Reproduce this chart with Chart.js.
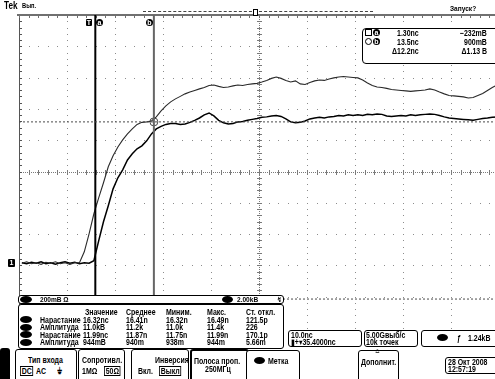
<!DOCTYPE html>
<html><head><meta charset="utf-8">
<script src="https://cdn.jsdelivr.net/npm/chart.js@4/dist/chart.umd.min.js"></script>
<style>
html,body{margin:0;padding:0;background:#fff;overflow:hidden;width:495px;height:379px;}
#wrap{position:relative;width:495px;height:379px;overflow:hidden;}
canvas{position:absolute;left:0;top:0;}
.t{position:absolute;font-family:"Liberation Sans","DejaVu Sans",Arial,sans-serif;font-weight:bold;font-size:8.5px;color:#000;white-space:nowrap;line-height:8px;transform:scaleX(0.82);transform-origin:0 50%;}
.tr{transform-origin:100% 50%;}
.box{position:absolute;border:1px solid #000;border-radius:3px;background:#fff;box-sizing:border-box;}
.ell{position:absolute;background:#000;border-radius:50%;}
.mk{position:absolute;background:#000;color:#fff;font-family:"Liberation Sans",Arial,sans-serif;font-weight:bold;font-size:7px;line-height:7px;text-align:center;}
.sel{border:1px solid #000;padding:0 1px;}
</style></head>
<body><div id="wrap">
<canvas id="c" width="504" height="379"></canvas>

<!-- top bar -->
<div class="t" style="left:4px;top:1px;font-size:10px;line-height:9px;">Tek</div>
<div class="t" style="left:22px;top:2px;font-size:7px;line-height:7px;">Вып.</div>
<div class="t" style="left:450px;top:5px;font-size:8px;">Запуск?</div>
<div style="position:absolute;left:143px;top:11px;width:230px;height:0;border-top:1px dashed #444;"></div>
<div style="position:absolute;left:253px;top:9px;width:3px;height:5px;border:1px solid #000;background:#fff;"></div>
<div class="mk" style="left:86px;top:19px;width:6px;height:7px;border-radius:1px;">T</div>
<div class="mk" style="left:96px;top:19px;width:7px;height:7px;border-radius:50%;">a</div>
<div class="mk" style="left:146px;top:19px;width:7px;height:7px;border-radius:50%;">b</div>
<div class="mk" style="left:8px;top:259px;width:7px;height:8px;line-height:8px;border-radius:1px;">1</div>

<!-- cursor readout -->
<div class="box" style="left:362px;top:28px;width:150px;height:36px;border-radius:4px;"></div>
<div style="position:absolute;left:365px;top:29px;width:5px;height:5px;border:1px solid #000;"></div>
<div class="mk" style="left:373px;top:29px;width:7px;height:7px;border-radius:50%;">a</div>
<div style="position:absolute;left:365px;top:38px;width:5px;height:5px;border:1px solid #000;border-radius:50%;"></div>
<div class="mk" style="left:373px;top:38px;width:7px;height:7px;border-radius:50%;">b</div>
<div class="t" id="ra1" style="left:397px;top:29px;"></div>
<div class="t" id="rb1" style="left:397px;top:38px;"></div>
<div class="t" id="rd1" style="left:392px;top:47px;"></div>
<div class="t tr" id="ra2" style="right:8px;top:29px;"></div>
<div class="t tr" id="rb2" style="right:8px;top:38px;"></div>
<div class="t tr" id="rd2" style="right:8px;top:47px;"></div>

<!-- channel strip -->
<div class="box" style="left:18px;top:295px;width:266px;height:9px;"></div>
<div class="ell" style="left:20px;top:296px;width:12px;height:7px;"></div>
<div class="t" style="left:40px;top:296px;font-size:8px;">200mB Ω</div>
<div class="ell" style="left:222px;top:296px;width:11px;height:7px;"></div>
<div class="t" style="left:237px;top:296px;font-size:8px;">2.00kB</div>
<div class="t" style="left:277px;top:296px;font-size:7px;">↯</div>

<!-- measurement table -->
<div class="box" style="left:18px;top:304px;width:266px;height:45px;"></div>
<div id="meas"></div>

<!-- info boxes -->
<div class="box" style="left:288px;top:330px;width:74px;height:17px;"></div>
<div class="t" style="left:291px;top:331px;">10.0nc</div>
<div class="t" style="left:291px;top:338px;">▮+▾35.4000nc</div>
<div class="box" style="left:364px;top:330px;width:54px;height:17px;"></div>
<div class="t" style="left:366px;top:331px;">5.00Gвыб/c</div>
<div class="t" style="left:366px;top:338px;">10k точек</div>
<div class="box" style="left:421px;top:330px;width:90px;height:17px;"></div>
<div class="ell" style="left:437px;top:334px;width:11px;height:7px;"></div>
<div class="t" style="left:457px;top:334px;">ƒ</div>
<div class="t" style="left:468px;top:334px;">1.24kB</div>

<!-- menu -->
<div style="position:absolute;left:0;top:348px;width:10px;height:35px;background:#000;border-radius:3px;"></div>
<div class="box" style="left:15px;top:349px;width:62px;height:34px;"></div>
<div class="t" style="left:28px;top:356px;">Тип входа</div>
<div class="t sel" style="left:20px;top:366px;">DC</div>
<div class="t" style="left:36px;top:367px;">AC</div>
<div class="t" style="left:57px;top:367px;">⏚</div>
<div class="box" style="left:78px;top:349px;width:47px;height:34px;"></div>
<div class="t" style="left:82px;top:356px;">Сопротивл.</div>
<div class="t" style="left:82px;top:367px;">1MΩ</div>
<div class="t sel" style="left:104px;top:366px;">50Ω</div>
<div class="box" style="left:131px;top:349px;width:58px;height:34px;"></div>
<div class="t" style="left:155px;top:356px;">Инверсия</div>
<div class="t" style="left:138px;top:367px;">Вкл.</div>
<div class="t sel" style="left:159px;top:366px;">Выкл</div>
<div class="box" style="left:190px;top:349px;width:59px;height:34px;border-width:2px;"></div>
<div class="t" style="left:194px;top:357px;">Полоса проп.</div>
<div class="t" style="left:205px;top:365px;">250MГц</div>
<div class="box" style="left:246px;top:350px;width:54px;height:34px;"></div>
<div class="ell" style="left:254px;top:357px;width:11px;height:7px;"></div>
<div class="t" style="left:268px;top:357px;">Метка</div>
<div class="box" style="left:358px;top:350px;width:41px;height:34px;"></div>
<div class="t" style="left:375px;top:348px;font-size:7px;">≏</div>
<div class="t" style="left:361px;top:358px;">Дополнит.</div>
<div class="box" style="left:445px;top:357px;width:60px;height:17px;"></div>
<div class="t" style="left:448px;top:358px;">28 Окт 2008</div>
<div class="t" style="left:448px;top:365px;">12:57:19</div>
</div>

<script>
// ---- data (time in ns, voltage in mV) ----
const timeNs = [-14,-13,-12,-11,-10,-9,-8,-7,-6,-5,-4,-3,-2,-1,0,1,2,3,4,5,6,7,8,9,10,11,12,13,14,15,16,17,18,19,20,21,22,23,24,25,26,27,28,29,30,31,32,33,34,35,36,37,38,39,40,41,42,43,44,45,46,47,48,49,50,51,52,53,54,55,56,57,58,59,60,61,62,63,64,65,66,67,68,69,70,71,72,73,74,75,76,77,78,79,80,81,82,83,84,85];
const traceUpper = [-3,6,-6,0,-10,3,-3,6,-6,0,-10,0,0,70,185,313,415,511,613,683,740,785,823,855,884,897,900,906,932,970,1002,1028,1047,1063,1079,1091,1101,1111,1120,1133,1136,1127,1120,1123,1130,1136,1133,1139,1143,1146,1155,1165,1178,1187,1178,1165,1155,1162,1143,1139,1152,1162,1168,1165,1174,1181,1187,1190,1187,1184,1181,1168,1149,1133,1123,1120,1114,1107,1104,1101,1098,1095,1098,1101,1104,1111,1104,1091,1079,1069,1066,1063,1060,1053,1056,1069,1082,1101,1120,1136];
const traceLower = [0,-6,3,-3,6,-6,0,-10,0,6,-3,3,-6,0,-3,13,140,262,364,472,543,594,657,696,728,747,779,823,855,871,884,890,890,884,887,897,910,925,945,957,938,910,894,887,890,900,903,910,916,922,929,932,938,941,935,919,900,894,897,906,919,925,929,925,932,935,941,938,945,941,945,941,948,945,951,948,938,935,938,941,938,945,941,945,948,951,948,941,932,925,922,919,916,913,910,916,922,925,929,932];
const cursorTimes = [1.30, 13.5];      // ns
const cursorLevels = [-232, 900];      // mV
const timeRange = [-14.6, 85.4];       // 10 ns/div, centre +35.4 ns
const voltRange = [-417, 1583];        // 200 mV/div
const readoutA = ["1.30nc", "−232mB"];
const readoutB = ["13.5nc", "900mB"];
const readoutD = ["Δ12.2nc", "Δ1.13 B"];
const measHeaders = ["Значение","Среднее","Миним.","Макс.","Ст. откл."];
const measNames = ["Нарастание","Амплитуда","Нарастание","Амплитуда"];
const measValue = ["16.32nc","11.0kB","11.99nc","944mB"];
const measMean = ["16.41n","11.2k","11.87n","940m"];
const measMin = ["16.32n","11.0k","11.75n","938m"];
const measMax = ["16.49n","11.4k","11.99n","944m"];
const measStd = ["121.5p","226","170.1p","5.66m"];

document.getElementById('ra1').textContent = readoutA[0];
document.getElementById('ra2').textContent = readoutA[1];
document.getElementById('rb1').textContent = readoutB[0];
document.getElementById('rb2').textContent = readoutB[1];
document.getElementById('rd1').textContent = readoutD[0];
document.getElementById('rd2').textContent = readoutD[1];

(function(){
  const m = document.getElementById('meas');
  const cols = [85,126,166,207,246];
  let html = '';
  measHeaders.forEach((h,i)=>{ html += `<div class="t" style="left:${cols[i]}px;top:308px;">${h}</div>`; });
  const rowsY = [315.5,323,330.5,338];
  measNames.forEach((n,r)=>{
    const y = rowsY[r];
    html += `<div class="ell" style="left:20px;top:${y+0.5}px;width:12px;height:7px;"></div>`;
    html += `<div class="t" style="left:40px;top:${y}px;">${n}</div>`;
    html += `<div class="t" style="left:83px;top:${y}px;">${measValue[r]}</div>`;
    html += `<div class="t" style="left:126px;top:${y}px;">${measMean[r]}</div>`;
    html += `<div class="t" style="left:166px;top:${y}px;">${measMin[r]}</div>`;
    html += `<div class="t" style="left:207px;top:${y}px;">${measMax[r]}</div>`;
    html += `<div class="t" style="left:246px;top:${y}px;">${measStd[r]}</div>`;
  });
  m.innerHTML = html;
})();

const graticule = {
  id:'graticule',
  beforeDatasetsDraw(chart){
    const {ctx, chartArea:a, scales:{x,y}} = chart;
    const xs=[], ys=[];
    for (let k=0;k<=10;k++){ xs.push(x.getPixelForValue(timeRange[0]+10*k)); ys.push(y.getPixelForValue(voltRange[0]+200*k)); }
    const dx=(xs[1]-xs[0])/5, dy=(ys[0]-ys[1])/5;
    ctx.save();
    ctx.fillStyle='#8c8c8c';
    for (let k=1;k<10;k++){
      if(k===5) continue;
      const px=Math.round(xs[k]);
      for (let j=0;j<=50;j++){ ctx.fillRect(px, Math.round(ys[10]+j*dy), 1, 1); }
      const py=Math.round(ys[k]);
      for (let j=0;j<=50;j++){ ctx.fillRect(Math.round(xs[0]+j*dx), py, 1, 1); }
    }
    const cx=Math.round(xs[5]), cy=Math.round(ys[5]);
    ctx.fillStyle='#7a7a7a';
    for (let py=a.top; py<a.bottom; py+=2) ctx.fillRect(cx,py,1,1);
    for (let px=a.left; px<a.right; px+=2) ctx.fillRect(px,cy,1,1);
    for (let j=0;j<=50;j++){ ctx.fillRect(cx-2, Math.round(ys[10]+j*dy), 5, 1); }
    for (let j=0;j<=50;j++){ ctx.fillRect(Math.round(xs[0]+j*dx), cy-2, 1, 5); }
    ctx.fillStyle='#555';
    ctx.fillRect(Math.round(xs[0]), a.top, 1, a.bottom-a.top);
    for (let j=0;j<=50;j++){ ctx.fillRect(Math.round(xs[0]), Math.round(ys[10]+j*dy), 3, 1); }
    ctx.fillStyle='#707070';
    ctx.fillRect(17, Math.round(ys[10])-1, 490, 2);
    for (let j=0;j<=50;j++){ ctx.fillRect(Math.round(xs[0]+j*dx), Math.round(ys[10]), 1, 3); }
    ctx.restore();
  }
};

const pts = arr => timeNs.map((t,i)=>({x:t, y:arr[i]}));
const vLine = t => [{x:t,y:voltRange[0]},{x:t,y:voltRange[1]}];
const hLine = v => [{x:timeRange[0],y:v},{x:timeRange[1],y:v}];

new Chart(document.getElementById('c'), {
  type:'line',
  data:{datasets:[
    {data:hLine(cursorLevels[1]), borderColor:'#4a4a4a', borderWidth:1, borderDash:[2,2], pointRadius:0},
    {data:hLine(cursorLevels[0]), borderColor:'#4a4a4a', borderWidth:1, borderDash:[2,2], pointRadius:0},
    {data:vLine(cursorTimes[0]), borderColor:'#000', borderWidth:2, pointRadius:0},
    {data:vLine(cursorTimes[1]), borderColor:'#666', borderWidth:2, pointRadius:0},
    {data:pts(traceUpper), borderColor:'#2a2a2a', borderWidth:1.1, pointRadius:0, tension:0},
    {data:pts(traceLower), borderColor:'#000', borderWidth:1.5, pointRadius:0, tension:0},
    {data:[{x:cursorTimes[1], y:cursorLevels[1]}], showLine:false, pointStyle:'circle', pointRadius:4, borderColor:'#444', borderWidth:1, backgroundColor:'rgba(0,0,0,0)'}
  ]},
  options:{
    responsive:false, animation:false, devicePixelRatio:1,
    layout:{padding:{left:19,right:5,top:15,bottom:51}},
    scales:{
      x:{type:'linear', min:timeRange[0], max:timeRange[1], display:false},
      y:{type:'linear', min:voltRange[0], max:voltRange[1], display:false}
    },
    plugins:{legend:{display:false}, tooltip:{enabled:false}}
  },
  plugins:[graticule]
});
</script>
</body></html>
